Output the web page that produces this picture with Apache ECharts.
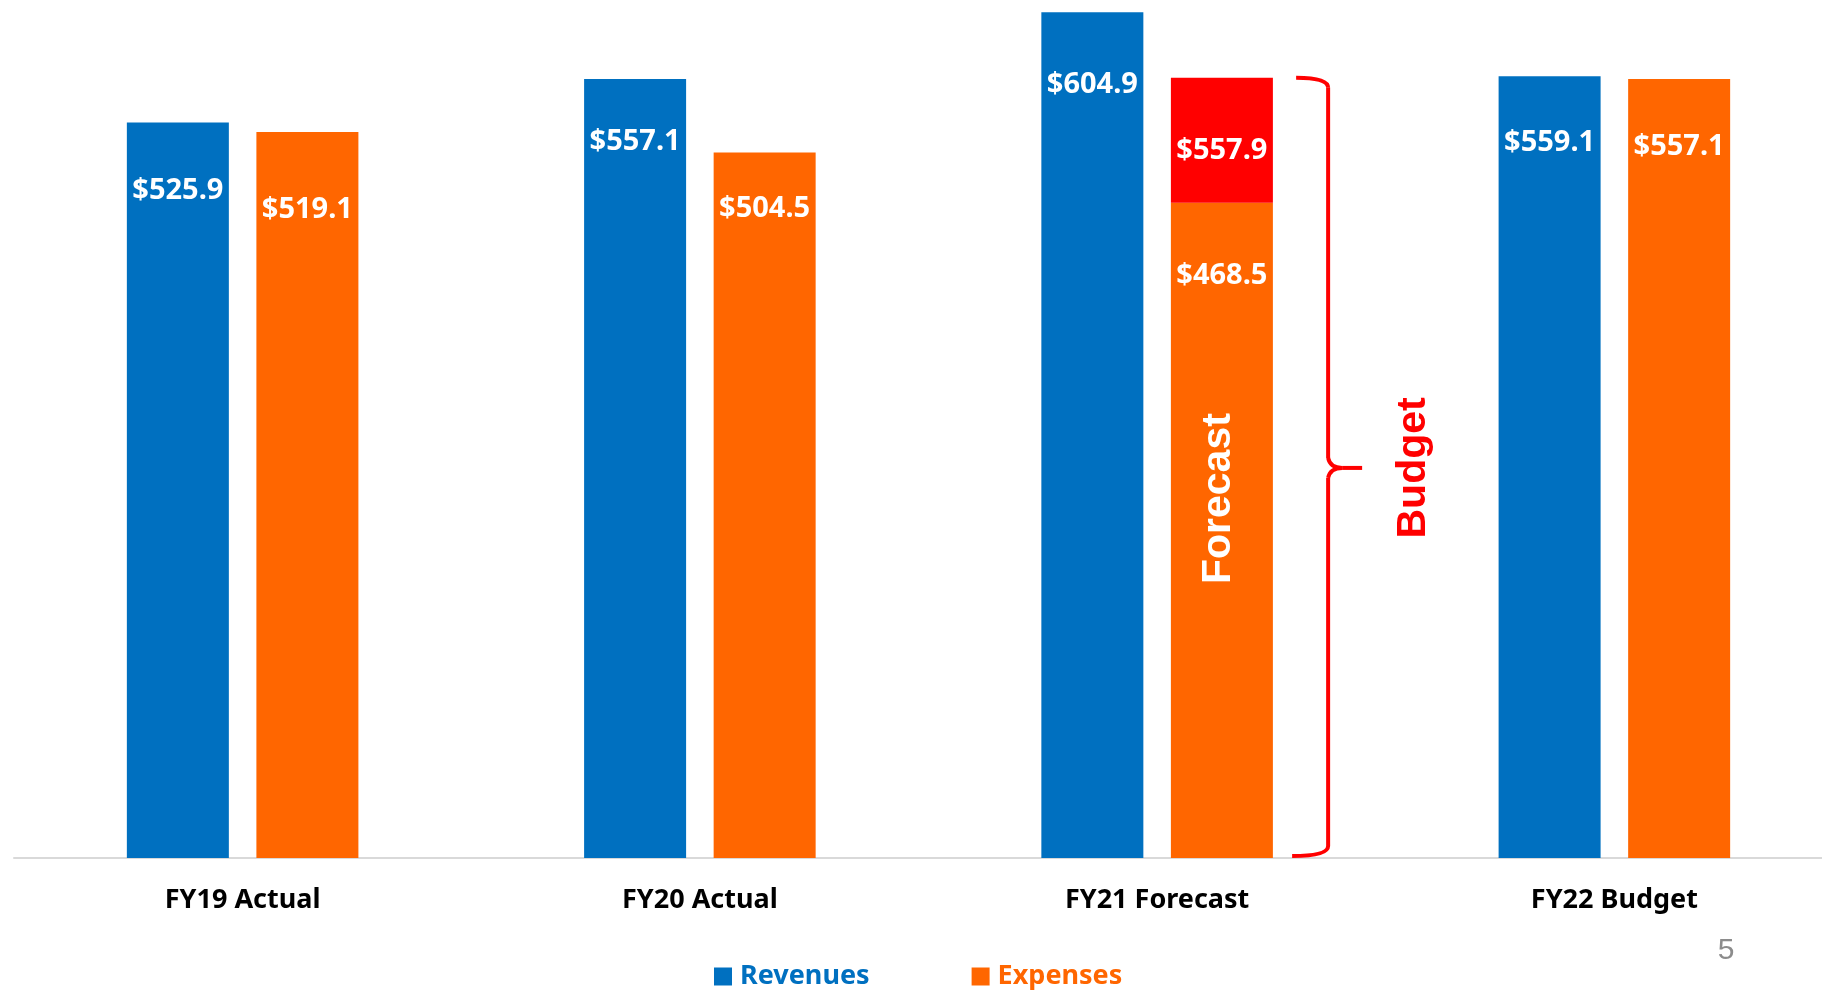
<!DOCTYPE html>
<html>
<head>
<meta charset="utf-8">
<script src="https://cdn.jsdelivr.net/npm/echarts@6/dist/echarts.min.js"></script>
<style>
  html, body { margin: 0; padding: 0; background: #fff; }
  #main { width: 1822px; height: 990px; }
</style>
</head>
<body>
<div id="main"></div>
<script>
// chart data
var categories = ['FY19 Actual', 'FY20 Actual', 'FY21 Forecast', 'FY22 Budget'];
var revenues = [525.9, 557.1, 604.9, 559.1];
var expenses = [519.1, 504.5, 468.5, 557.1];
var budgetExpenses = [null, null, 557.9, null];   // FY21 budgeted expenses (top of red part)

// small vertical nudges of the value labels, as placed in the slide
var revLabelNudge = [2, -4, 6, 0];
var expLabelNudge = [11, -10, 6, 1];

var BLUE = '#0070C0', ORANGE = '#FF6600', RED = '#FF0000';

function money(v){
	return '$' + v.toFixed(1);
}

// red part = budget minus forecast
var overrun = budgetExpenses.map(function (b, i){
	return b == null ? null : +(b - expenses[i]).toFixed(1);
});

function withNudge(values, nudge){
	return values.map(function (v, i){
		return { value: v, label: { offset: [0, nudge[i]] } };
	});
}

var valueLabel = {
	show: true,
	position: 'insideTop',
	distance: 52,
	color: '#fff',
	fontFamily: 'Noto Sans',
	fontWeight: 'bold',
	fontSize: 29
};

var option = {
	animation: false,
	backgroundColor: '#fff',
	grid: { left: 14, right: -21, top: 5, bottom: 132, outerBoundsMode: 'none', containLabel: false },
	legend: {
		data: [
			{ name: 'Revenues', textStyle: { color: BLUE } },
			{ name: 'Expenses', textStyle: { color: ORANGE } }
		],
		left: 714,
		top: 963,
		padding: 0,
		icon: 'rect',
		itemWidth: 18,
		itemHeight: 18,
		itemGap: 102,
		textStyle: { fontFamily: 'Noto Sans', fontWeight: 'bold', fontSize: 27, padding: [0, 0, 0, 3] }
	},
	xAxis: {
		type: 'category',
		data: categories,
		axisTick: { show: false },
		axisLine: { lineStyle: { color: '#d9d9d9', width: 2 } },
		axisLabel: {
			color: '#000',
			fontFamily: 'Noto Sans',
			fontWeight: 'bold',
			fontSize: 27,
			margin: 29
		}
	},
	yAxis: {
		type: 'value',
		min: 0,
		max: 610,
		show: false,
		splitLine: { show: false }
	},
	series: [
		{
			name: 'Revenues',
			type: 'bar',
			data: withNudge(revenues, revLabelNudge),
			barWidth: 102,
			barGap: '27%',
			itemStyle: { color: BLUE },
			label: Object.assign({}, valueLabel, {
				formatter: function (p){ return money(p.value); }
			})
		},
		{
			name: 'Expenses',
			type: 'bar',
			stack: 'exp',
			data: withNudge(expenses, expLabelNudge),
			barWidth: 102,
			itemStyle: { color: ORANGE },
			label: Object.assign({}, valueLabel, {
				formatter: function (p){ return money(p.value); }
			})
		},
		{
			name: 'Budget',
			type: 'bar',
			stack: 'exp',
			data: overrun,
			barWidth: 102,
			itemStyle: { color: RED },
			label: Object.assign({}, valueLabel, {
				distance: 58,
				formatter: function (p){ return money(budgetExpenses[p.dataIndex]); }
			})
		}
	]
};

var myChart = echarts.init(document.getElementById('main'));
myChart.setOption(option);

// brace + rotated notes, placed from the axes
var fcIdx = 2;
var cx = myChart.convertToPixel({ xAxisIndex: 0 }, categories[fcIdx]);
var yTop = myChart.convertToPixel({ yAxisIndex: 0 }, budgetExpenses[fcIdx]);
var yBot = myChart.convertToPixel({ yAxisIndex: 0 }, 0) - 2;
var yMid = (yTop + yBot) / 2 + 1;
var x0 = cx + 139, xv = cx + 171, xt = cx + 205;

var braceStyle = { fill: 'none', stroke: RED, lineWidth: 4 };
function curve(x1, y1, cx1, cy1, x2, y2){
	return { type: 'bezierCurve', z: 100, shape: { x1: x1, y1: y1, cpx1: cx1, cpy1: cy1, x2: x2, y2: y2 }, style: braceStyle };
}
function seg(x1, y1, x2, y2){
	return { type: 'line', z: 100, shape: { x1: x1, y1: y1, x2: x2, y2: y2 }, style: braceStyle };
}

var braceParts = [
	curve(x0, yTop, xv, yTop, xv, yTop + 10),
	seg(xv, yTop + 10, xv, yMid - 10),
	curve(xv, yMid - 10, xv + 2, yMid, xv + 14, yMid),
	seg(xv + 14, yMid, xt, yMid),
	curve(xv + 14, yMid, xv + 2, yMid, xv, yMid + 10),
	seg(xv, yMid + 10, xv, yBot - 10),
	curve(xv, yBot - 10, xv, yBot, x0 - 4, yBot)
];

var notes = [
	{
		type: 'text',
		z: 100,
		x: cx + 62,
		y: myChart.convertToPixel({ yAxisIndex: 0 }, 257),
		rotation: Math.PI / 2,
		style: {
			text: 'Forecast',
			fill: '#fff',
			font: 'bold 41px "Liberation Sans"',
			textAlign: 'center',
			textVerticalAlign: 'middle'
		}
	},
	{
		type: 'text',
		z: 100,
		x: xt + 52,
		y: yMid,
		rotation: Math.PI / 2,
		style: {
			text: 'Budget',
			fill: RED,
			font: 'bold 41px "Liberation Sans"',
			textAlign: 'center',
			textVerticalAlign: 'middle'
		}
	},
	{
		type: 'text',
		z: 100,
		x: 1726,
		y: 951,
		style: {
			text: '5',
			fill: '#8c8c8c',
			font: '30px "Liberation Sans"',
			textAlign: 'center',
			textVerticalAlign: 'middle'
		}
	}
];

myChart.setOption({ graphic: braceParts.concat(notes) });
</script>
</body>
</html>
